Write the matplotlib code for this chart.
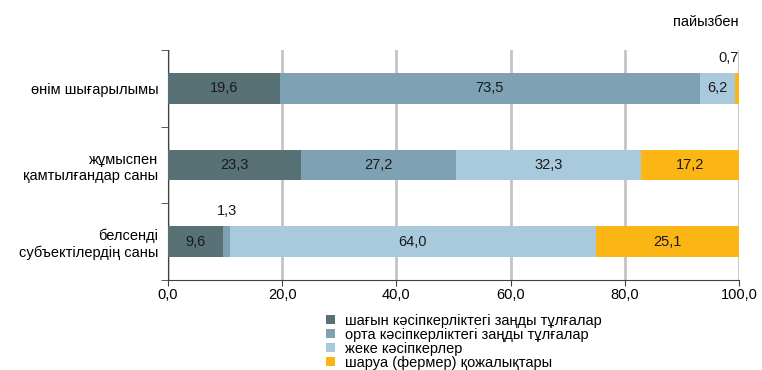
import numpy as np
import matplotlib.pyplot as plt
from matplotlib.patches import Patch

plt.rcParams['font.family'] = ['Liberation Sans', 'DejaVu Sans']

categories = ["өнім шығарылымы", "жұмыспен\nқамтылғандар саны", "белсенді\nсубъектілердің саны"]
series_names = ["шағын кәсіпкерліктегі заңды тұлғалар",
                "орта кәсіпкерліктегі заңды тұлғалар",
                "жеке кәсіпкерлер",
                "шаруа (фермер) қожалықтары"]
small_legal = [19.6, 23.3, 9.6]
medium_legal = [73.5, 27.2, 1.3]
individual = [6.2, 32.3, 64.0]
farms = [0.7, 17.2, 25.1]
colors = ["#587175", "#7ea1b3", "#a9cadc", "#fbb615"]
x_ticks = [0, 20, 40, 60, 80, 100]

series = [small_legal, medium_legal, individual, farms]
fs = 10.5

fig = plt.figure(figsize=(7.62, 3.70), dpi=100)
ax = fig.add_axes([0.2205, 0.2432, 0.7493, 0.6217])

y = np.arange(len(categories))[::-1]
left = np.zeros(len(categories))
for vals, col in zip(series, colors):
    vals = np.array(vals)
    ax.barh(y, vals, left=left, height=0.4, color=col, zorder=3)
    for yi, l, v in zip(y, left, vals):
        txt = f"{v:.1f}".replace(".", ",")
        if v >= 5:
            ax.text(l + v / 2, yi, txt, ha="center", va="center", fontsize=fs, color="#1a1a1a", zorder=4)
        elif v > 1:
            ax.text(l + v / 2, yi + 0.4, txt, ha="center", va="center", fontsize=fs, color="#1a1a1a", zorder=4)
        else:
            ax.text(l + v, yi + 0.39, txt, ha="right", va="center", fontsize=fs, color="#1a1a1a", zorder=4)
    left += vals

ax.set_xlim(0, 100)
ax.set_ylim(-0.5, 2.5)
ax.set_xticks(x_ticks)
ax.set_xticklabels([f"{t:.1f}".replace(".", ",") for t in x_ticks], fontsize=fs)
ax.set_yticks(y)
ax.set_yticklabels(categories, fontsize=fs, linespacing=1.25)
ax.set_yticks([-0.5, 0.5, 1.5, 2.5], minor=True)
ax.tick_params(axis="y", which="major", length=0, pad=7)
ax.tick_params(axis="y", which="minor", length=5, color="#404040")
ax.tick_params(axis="x", length=4, color="#404040", pad=2)
ax.grid(axis="x", color="#c4c4c4", linewidth=2, zorder=0)
for s in ["top", "right"]:
    ax.spines[s].set_visible(False)
for s in ["left", "bottom"]:
    ax.spines[s].set_color("#404040")

fig.text(0.969, 0.94, "пайызбен", ha="right", va="center", fontsize=fs)

handles = [Patch(facecolor=c, edgecolor="none") for c in colors]
fig.legend(handles, series_names, loc="upper left", bbox_to_anchor=(0.418, 0.172),
           frameon=False, fontsize=fs, handlelength=0.65, handleheight=0.65,
           labelspacing=0.0, handletextpad=0.7, borderpad=0)

fig.savefig("out.png", dpi=100)
